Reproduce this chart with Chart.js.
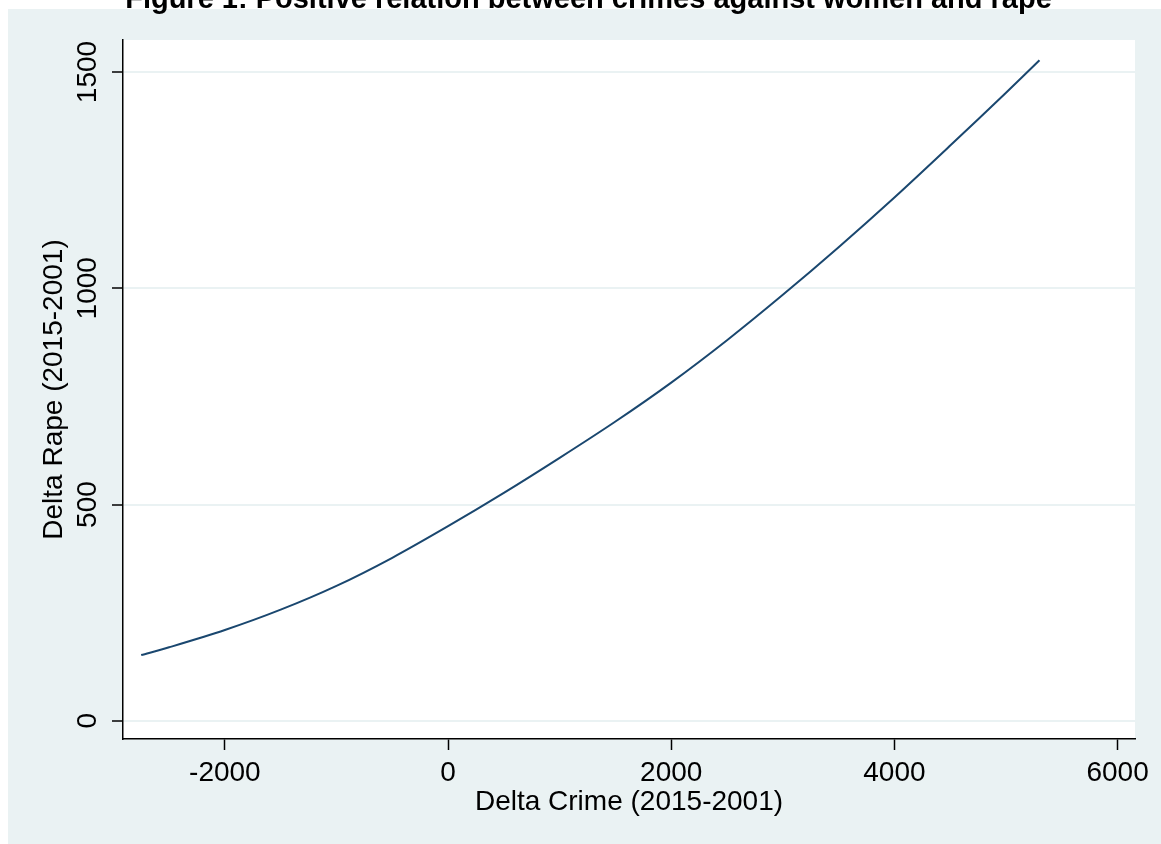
<!DOCTYPE html>
<html>
<head>
<meta charset="utf-8">
<script src="https://cdn.jsdelivr.net/npm/chart.js@4"></script>
<style>
  html, body { margin: 0; padding: 0; background: #fff; }
  #wrap { position: relative; width: 1161px; height: 844px; overflow: hidden; }
  #title {
    position: absolute; left: 0; width: 1177px; top: -16px;
    text-align: center; font: bold 29px "Liberation Sans", Arial, sans-serif;
    line-height: 29px; color: #000;
  }
  canvas { position: absolute; left: 0; top: 0; }
</style>
</head>
<body>
<div id="wrap">
  <canvas id="chart" width="1161" height="844"></canvas>
  <div id="title">Figure 1: Positive relation between crimes against women and rape</div>
</div>
<script>
// Fitted curve
const deltaCrime = [-2750, -2500, -2000, -1500, -1000, -500, 0, 500, 1000, 1500, 2000, 2500, 3000, 3500, 4000, 4500, 5000, 5300];
const deltaRape = [152, 170, 210, 257, 312, 377, 450, 527, 608, 692, 782, 880, 985, 1095, 1210, 1330, 1452, 1527];

const xTicks = [-2000, 0, 2000, 4000, 6000];
const yTicks = [0, 500, 1000, 1500];

const BG = '#EAF2F3';
const LINE = '#1A476F';
const FONT = '"Liberation Sans", Arial, sans-serif';

// Paint the outer Stata-style background and the white plot region
const backgroundPlugin = {
  id: 'background',
  beforeDraw(chart) {
    const { ctx, chartArea } = chart;
    ctx.save();
    ctx.fillStyle = '#fff';
    ctx.fillRect(0, 0, chart.width, chart.height);
    ctx.fillStyle = BG;
    ctx.fillRect(8, 9, chart.width - 8, chart.height - 9);
    ctx.fillStyle = '#fff';
    ctx.fillRect(chartArea.left, chartArea.top, chartArea.right - chartArea.left, chartArea.bottom - chartArea.top);
    ctx.restore();
  }
};

new Chart(document.getElementById('chart').getContext('2d'), {
  type: 'scatter',
  data: {
    datasets: [{
      data: deltaCrime.map((x, i) => ({ x: x, y: deltaRape[i] })),
      showLine: true,
      borderColor: LINE,
      borderWidth: 2,
      pointRadius: 0,
      tension: 0.3,
      fill: false
    }]
  },
  options: {
    responsive: false,
    animation: false,
    layout: { padding: { left: 8, top: 40, right: 26, bottom: 0 } },
    plugins: {
      legend: { display: false },
      tooltip: { enabled: false }
    },
    scales: {
      x: {
        type: 'linear',
        min: -2913,
        max: 6156,
        afterBuildTicks: (scale) => { scale.ticks = xTicks.map(v => ({ value: v })); },
        afterFit: (scale) => { scale.height = 105; },
        border: { color: '#000', width: 1.5 },
        grid: { drawOnChartArea: false, tickColor: '#000', tickLength: 11, tickWidth: 1.5 },
        ticks: {
          color: '#000',
          padding: 6,
          maxRotation: 0,
          font: { family: FONT, size: 28 },
          callback: (v) => String(v)
        },
        title: {
          display: true,
          text: 'Delta Crime (2015-2001)',
          color: '#000',
          font: { family: FONT, size: 28, lineHeight: 1.2 },
          padding: { top: 0, bottom: 25 }
        }
      },
      y: {
        type: 'linear',
        min: -42,
        max: 1574,
        afterBuildTicks: (scale) => { scale.ticks = yTicks.map(v => ({ value: v })); },
        afterFit: (scale) => { scale.width = 115; },
        border: { color: '#000', width: 1.5 },
        grid: { color: BG, lineWidth: 2, tickColor: '#000', tickLength: 11, tickWidth: 1.5 },
        ticks: {
          color: '#000',
          padding: -7,
          minRotation: 90,
          maxRotation: 90,
          crossAlign: 'center',
          font: { family: FONT, size: 28 },
          callback: (v) => String(v)
        },
        title: {
          display: true,
          text: 'Delta Rape (2015-2001)',
          color: '#000',
          font: { family: FONT, size: 28, lineHeight: 1.2 },
          padding: { top: 29, bottom: 0 }
        }
      }
    }
  },
  plugins: [backgroundPlugin]
});
</script>
</body>
</html>
